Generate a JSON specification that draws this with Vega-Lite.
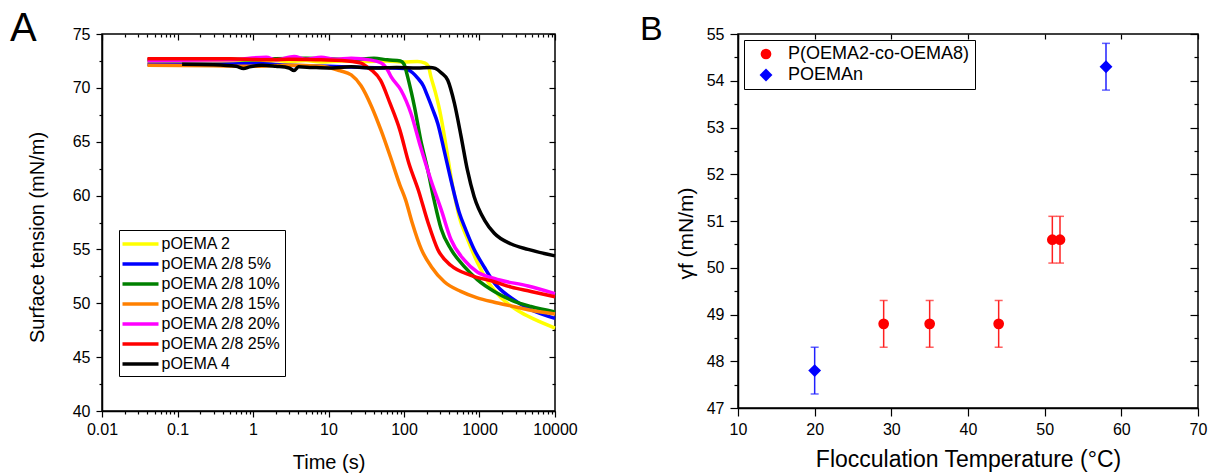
{
  "$schema": "https://vega.github.io/schema/vega-lite/v6.json",
  "padding": {"left": 9, "top": 8, "right": 0, "bottom": 0},
  "spacing": 183,
  "bounds": "flush",
  "resolve": {"scale": {"color": "independent", "shape": "independent", "size": "independent", "strokeWidth": "independent"}},
  "config": {
    "font": "'Liberation Sans', Arial, sans-serif",
    "view": {"stroke": "black", "strokeWidth": 1.5},
    "axis": {"grid": false, "domainColor": "black", "domainWidth": 1.5, "tickColor": "black", "tickWidth": 1.2, "labelColor": "black", "titleColor": "black", "labelFontSize": 16, "titleFontWeight": "normal", "labelFlush": false, "labelOverlap": false},
    "legend": {"labelColor": "black", "labelLimit": 400},
    "title": {"color": "black", "fontWeight": "normal"}
  },
  "hconcat": [
    {
      "width": 453,
      "height": 377,
      "title": {"text": "A", "anchor": "start", "frame": "group", "fontSize": 40, "baseline": "alphabetic", "dx": -92, "dy": 9, "offset": -46},
      "layer": [
        {
          "data": {"values": [
            {"s":"pOEMA 2","t":0.04,"v":72.4},{"s":"pOEMA 2","t":0.2,"v":72.45},{"s":"pOEMA 2","t":0.5,"v":72.4},{"s":"pOEMA 2","t":1,"v":72.5},{"s":"pOEMA 2","t":1.5,"v":72.35},{"s":"pOEMA 2","t":2,"v":72.55},{"s":"pOEMA 2","t":3,"v":72.45},{"s":"pOEMA 2","t":5,"v":72.55},{"s":"pOEMA 2","t":8,"v":72.4},{"s":"pOEMA 2","t":15,"v":72.5},{"s":"pOEMA 2","t":30,"v":72.45},{"s":"pOEMA 2","t":60,"v":72.5},{"s":"pOEMA 2","t":100,"v":72.4},{"s":"pOEMA 2","t":150,"v":72.45},{"s":"pOEMA 2","t":190,"v":72.3},{"s":"pOEMA 2","t":210,"v":72.0},{"s":"pOEMA 2","t":228,"v":71.0},{"s":"pOEMA 2","t":260,"v":69.6},{"s":"pOEMA 2","t":295,"v":68.0},{"s":"pOEMA 2","t":330,"v":66.2},{"s":"pOEMA 2","t":362,"v":64.5},{"s":"pOEMA 2","t":400,"v":62.6},{"s":"pOEMA 2","t":437,"v":61.0},{"s":"pOEMA 2","t":490,"v":59.3},{"s":"pOEMA 2","t":540,"v":58.0},{"s":"pOEMA 2","t":690,"v":56.0},{"s":"pOEMA 2","t":935,"v":53.8},{"s":"pOEMA 2","t":1290,"v":52.0},{"s":"pOEMA 2","t":1950,"v":50.5},{"s":"pOEMA 2","t":3240,"v":49.3},{"s":"pOEMA 2","t":5370,"v":48.5},{"s":"pOEMA 2","t":10000,"v":47.7},
            {"s":"pOEMA 2/8 5%","t":0.04,"v":72.2},{"s":"pOEMA 2/8 5%","t":0.3,"v":72.2},{"s":"pOEMA 2/8 5%","t":1,"v":72.25},{"s":"pOEMA 2/8 5%","t":3,"v":72.1},{"s":"pOEMA 2/8 5%","t":10,"v":72.0},{"s":"pOEMA 2/8 5%","t":30,"v":71.9},{"s":"pOEMA 2/8 5%","t":60,"v":71.85},{"s":"pOEMA 2/8 5%","t":100,"v":71.8},{"s":"pOEMA 2/8 5%","t":130,"v":71.4},{"s":"pOEMA 2/8 5%","t":152,"v":70.9},{"s":"pOEMA 2/8 5%","t":180,"v":70.2},{"s":"pOEMA 2/8 5%","t":206,"v":69.2},{"s":"pOEMA 2/8 5%","t":240,"v":68.0},{"s":"pOEMA 2/8 5%","t":280,"v":66.7},{"s":"pOEMA 2/8 5%","t":340,"v":64.2},{"s":"pOEMA 2/8 5%","t":420,"v":61.4},{"s":"pOEMA 2/8 5%","t":540,"v":58.4},{"s":"pOEMA 2/8 5%","t":660,"v":56.8},{"s":"pOEMA 2/8 5%","t":850,"v":55.0},{"s":"pOEMA 2/8 5%","t":1170,"v":53.3},{"s":"pOEMA 2/8 5%","t":1570,"v":51.9},{"s":"pOEMA 2/8 5%","t":2630,"v":50.5},{"s":"pOEMA 2/8 5%","t":4800,"v":49.4},{"s":"pOEMA 2/8 5%","t":10000,"v":48.6},
            {"s":"pOEMA 2/8 10%","t":0.04,"v":72.6},{"s":"pOEMA 2/8 10%","t":0.3,"v":72.7},{"s":"pOEMA 2/8 10%","t":1,"v":72.6},{"s":"pOEMA 2/8 10%","t":2,"v":72.7},{"s":"pOEMA 2/8 10%","t":5,"v":72.75},{"s":"pOEMA 2/8 10%","t":10,"v":72.7},{"s":"pOEMA 2/8 10%","t":20,"v":72.6},{"s":"pOEMA 2/8 10%","t":40,"v":72.75},{"s":"pOEMA 2/8 10%","t":60,"v":72.6},{"s":"pOEMA 2/8 10%","t":90,"v":72.5},{"s":"pOEMA 2/8 10%","t":100,"v":72.2},{"s":"pOEMA 2/8 10%","t":112,"v":71.0},{"s":"pOEMA 2/8 10%","t":125,"v":69.6},{"s":"pOEMA 2/8 10%","t":138,"v":68.2},{"s":"pOEMA 2/8 10%","t":166,"v":65.2},{"s":"pOEMA 2/8 10%","t":206,"v":62.4},{"s":"pOEMA 2/8 10%","t":250,"v":59.6},{"s":"pOEMA 2/8 10%","t":311,"v":56.9},{"s":"pOEMA 2/8 10%","t":420,"v":55.0},{"s":"pOEMA 2/8 10%","t":630,"v":53.4},{"s":"pOEMA 2/8 10%","t":935,"v":52.2},{"s":"pOEMA 2/8 10%","t":1570,"v":51.1},{"s":"pOEMA 2/8 10%","t":2630,"v":50.3},{"s":"pOEMA 2/8 10%","t":4800,"v":49.7},{"s":"pOEMA 2/8 10%","t":10000,"v":49.2},
            {"s":"pOEMA 2/8 15%","t":0.04,"v":72.1},{"s":"pOEMA 2/8 15%","t":0.3,"v":72.05},{"s":"pOEMA 2/8 15%","t":1,"v":72.0},{"s":"pOEMA 2/8 15%","t":3,"v":72.1},{"s":"pOEMA 2/8 15%","t":8,"v":72.0},{"s":"pOEMA 2/8 15%","t":14,"v":71.6},{"s":"pOEMA 2/8 15%","t":20,"v":71.2},{"s":"pOEMA 2/8 15%","t":27,"v":70.2},{"s":"pOEMA 2/8 15%","t":37,"v":68.3},{"s":"pOEMA 2/8 15%","t":50,"v":66.0},{"s":"pOEMA 2/8 15%","t":66,"v":63.6},{"s":"pOEMA 2/8 15%","t":88,"v":61.0},{"s":"pOEMA 2/8 15%","t":105,"v":59.6},{"s":"pOEMA 2/8 15%","t":128,"v":57.5},{"s":"pOEMA 2/8 15%","t":170,"v":55.0},{"s":"pOEMA 2/8 15%","t":230,"v":53.4},{"s":"pOEMA 2/8 15%","t":342,"v":52.0},{"s":"pOEMA 2/8 15%","t":565,"v":51.1},{"s":"pOEMA 2/8 15%","t":935,"v":50.5},{"s":"pOEMA 2/8 15%","t":1570,"v":50.1},{"s":"pOEMA 2/8 15%","t":2630,"v":49.75},{"s":"pOEMA 2/8 15%","t":4400,"v":49.4},{"s":"pOEMA 2/8 15%","t":10000,"v":49.0},
            {"s":"pOEMA 2/8 20%","t":0.04,"v":72.55},{"s":"pOEMA 2/8 20%","t":0.5,"v":72.6},{"s":"pOEMA 2/8 20%","t":1.5,"v":72.85},{"s":"pOEMA 2/8 20%","t":2,"v":72.6},{"s":"pOEMA 2/8 20%","t":3.5,"v":72.9},{"s":"pOEMA 2/8 20%","t":5,"v":72.65},{"s":"pOEMA 2/8 20%","t":8,"v":72.85},{"s":"pOEMA 2/8 20%","t":12,"v":72.65},{"s":"pOEMA 2/8 20%","t":20,"v":72.75},{"s":"pOEMA 2/8 20%","t":35,"v":72.6},{"s":"pOEMA 2/8 20%","t":50,"v":72.3},{"s":"pOEMA 2/8 20%","t":60,"v":71.7},{"s":"pOEMA 2/8 20%","t":68,"v":71.0},{"s":"pOEMA 2/8 20%","t":91,"v":69.8},{"s":"pOEMA 2/8 20%","t":124,"v":67.6},{"s":"pOEMA 2/8 20%","t":166,"v":64.5},{"s":"pOEMA 2/8 20%","t":228,"v":61.4},{"s":"pOEMA 2/8 20%","t":311,"v":58.7},{"s":"pOEMA 2/8 20%","t":420,"v":55.9},{"s":"pOEMA 2/8 20%","t":630,"v":54.0},{"s":"pOEMA 2/8 20%","t":935,"v":52.9},{"s":"pOEMA 2/8 20%","t":1570,"v":52.3},{"s":"pOEMA 2/8 20%","t":4400,"v":51.6},{"s":"pOEMA 2/8 20%","t":10000,"v":50.9},
            {"s":"pOEMA 2/8 25%","t":0.04,"v":72.7},{"s":"pOEMA 2/8 25%","t":0.5,"v":72.7},{"s":"pOEMA 2/8 25%","t":1.5,"v":72.6},{"s":"pOEMA 2/8 25%","t":3,"v":72.65},{"s":"pOEMA 2/8 25%","t":8,"v":72.6},{"s":"pOEMA 2/8 25%","t":15,"v":72.55},{"s":"pOEMA 2/8 25%","t":27,"v":72.3},{"s":"pOEMA 2/8 25%","t":33,"v":71.9},{"s":"pOEMA 2/8 25%","t":38,"v":71.6},{"s":"pOEMA 2/8 25%","t":49,"v":70.7},{"s":"pOEMA 2/8 25%","t":65,"v":68.6},{"s":"pOEMA 2/8 25%","t":88,"v":66.1},{"s":"pOEMA 2/8 25%","t":116,"v":63.0},{"s":"pOEMA 2/8 25%","t":155,"v":60.5},{"s":"pOEMA 2/8 25%","t":208,"v":57.5},{"s":"pOEMA 2/8 25%","t":280,"v":55.0},{"s":"pOEMA 2/8 25%","t":420,"v":53.5},{"s":"pOEMA 2/8 25%","t":770,"v":52.6},{"s":"pOEMA 2/8 25%","t":1570,"v":52.0},{"s":"pOEMA 2/8 25%","t":2630,"v":51.5},{"s":"pOEMA 2/8 25%","t":4800,"v":51.1},{"s":"pOEMA 2/8 25%","t":10000,"v":50.6},
            {"s":"pOEMA 4","t":0.115,"v":72.2},{"s":"pOEMA 4","t":0.3,"v":72.15},{"s":"pOEMA 4","t":0.6,"v":72.0},{"s":"pOEMA 4","t":0.75,"v":71.8},{"s":"pOEMA 4","t":0.9,"v":71.95},{"s":"pOEMA 4","t":1.3,"v":72.1},{"s":"pOEMA 4","t":2,"v":72.0},{"s":"pOEMA 4","t":3,"v":71.85},{"s":"pOEMA 4","t":3.5,"v":71.6},{"s":"pOEMA 4","t":4,"v":71.95},{"s":"pOEMA 4","t":6,"v":71.9},{"s":"pOEMA 4","t":10,"v":71.85},{"s":"pOEMA 4","t":20,"v":71.95},{"s":"pOEMA 4","t":40,"v":71.85},{"s":"pOEMA 4","t":80,"v":71.9},{"s":"pOEMA 4","t":150,"v":71.85},{"s":"pOEMA 4","t":220,"v":71.9},{"s":"pOEMA 4","t":260,"v":71.8},{"s":"pOEMA 4","t":311,"v":71.4},{"s":"pOEMA 4","t":380,"v":70.7},{"s":"pOEMA 4","t":464,"v":68.6},{"s":"pOEMA 4","t":570,"v":65.5},{"s":"pOEMA 4","t":690,"v":62.4},{"s":"pOEMA 4","t":850,"v":59.9},{"s":"pOEMA 4","t":1170,"v":57.7},{"s":"pOEMA 4","t":1570,"v":56.5},{"s":"pOEMA 4","t":2630,"v":55.5},{"s":"pOEMA 4","t":4400,"v":55.0},{"s":"pOEMA 4","t":10000,"v":54.4}
          ]},
          "mark": {"type": "line", "interpolate": "monotone"},
          "encoding": {
            "x": {"field": "t", "type": "quantitative", "scale": {"type": "log", "domain": [0.01, 10000], "nice": false},
              "axis": {"title": "Time (s)", "titleFontSize": 20, "values": [0.01,0.02,0.03,0.04,0.05,0.06,0.07,0.08,0.09,0.1,0.2,0.3,0.4,0.5,0.6,0.7,0.8,0.9,1,2,3,4,5,6,7,8,9,10,20,30,40,50,60,70,80,90,100,200,300,400,500,600,700,800,900,1000,2000,3000,4000,5000,6000,7000,8000,9000,10000],
                "format": "~g", "labelExpr": "abs(log(datum.value)/LN10 - round(log(datum.value)/LN10)) < 0.001 ? datum.label : ''",
                "tickSize": {"condition": {"test": "abs(log(datum.value)/LN10 - round(log(datum.value)/LN10)) > 0.001", "value": 3}, "value": 6},
                "labelPadding": 4, "minExtent": 26, "maxExtent": 26, "titlePadding": 15}},
            "y": {"field": "v", "type": "quantitative", "scale": {"domain": [40, 75], "nice": false, "zero": false},
              "axis": {"title": "Surface tension (mN/m)", "titleFontSize": 20, "values": [40,42.5,45,47.5,50,52.5,55,57.5,60,62.5,65,67.5,70,72.5,75],
                "labelExpr": "datum.value % 5 == 0 ? format(datum.value, 'd') : ''",
                "tickSize": {"condition": {"test": "datum.value % 5 != 0", "value": 3}, "value": 6},
                "labelPadding": 6, "minExtent": 30, "maxExtent": 30, "titlePadding": 25, "titleY": 203}},
            "color": {"field": "s", "type": "nominal",
              "scale": {"domain": ["pOEMA 2","pOEMA 2/8 5%","pOEMA 2/8 10%","pOEMA 2/8 15%","pOEMA 2/8 20%","pOEMA 2/8 25%","pOEMA 4"], "range": ["#ffff00","#0000ff","#008000","#ff8000","#ff00ff","#ff0000","#000000"]},
              "legend": {"title": null, "orient": "none", "legendX": 17, "legendY": 196, "strokeColor": "black", "fillColor": "white", "padding": 4, "rowPadding": 2, "symbolType": "M-2.25,0H2.25", "symbolSize": 256, "symbolStrokeWidth": 3, "symbolOffset": 7.5, "labelOffset": 11, "labelFontSize": 16}},
            "strokeWidth": {"field": "s", "type": "nominal",
              "scale": {"domain": ["pOEMA 2","pOEMA 2/8 5%","pOEMA 2/8 10%","pOEMA 2/8 15%","pOEMA 2/8 20%","pOEMA 2/8 25%","pOEMA 4"], "range": [3.5,3.5,3.5,3.5,3.5,3.5,2.2]}, "legend": null}
          }
        },
        {
          "data": {"values": [{"t": 1, "v": 50}]},
          "mark": {"type": "point", "opacity": 0},
          "encoding": {
            "x": {"field": "t", "type": "quantitative", "scale": {"type": "log", "domain": [0.01, 10000], "nice": false},
              "axis": {"orient": "top", "title": null, "labels": false, "domain": false, "values": [0.01,0.02,0.03,0.04,0.05,0.06,0.07,0.08,0.09,0.1,0.2,0.3,0.4,0.5,0.6,0.7,0.8,0.9,1,2,3,4,5,6,7,8,9,10,20,30,40,50,60,70,80,90,100,200,300,400,500,600,700,800,900,1000,2000,3000,4000,5000,6000,7000,8000,9000,10000],
                "tickSize": {"condition": {"test": "abs(log(datum.value)/LN10 - round(log(datum.value)/LN10)) > 0.001", "value": -3}, "value": -6}}},
            "y": {"field": "v", "type": "quantitative", "scale": {"domain": [40, 75], "nice": false, "zero": false},
              "axis": {"orient": "right", "title": null, "labels": false, "domain": false, "values": [40,42.5,45,47.5,50,52.5,55,57.5,60,62.5,65,67.5,70,72.5,75],
                "tickSize": {"condition": {"test": "datum.value % 5 != 0", "value": -3}, "value": -6}}}
          }
        }
      ],
      "resolve": {"axis": {"x": "independent", "y": "independent"}}
    },
    {
      "width": 460,
      "height": 374,
      "title": {"text": "B", "anchor": "start", "frame": "group", "fontSize": 34, "baseline": "alphabetic", "dx": -98, "dy": 8, "offset": -40},
      "data": {"values": [
        {"s": "POEMAn", "T": 20, "g": 47.8, "lo": 47.3, "hi": 48.3},
        {"s": "P(OEMA2-co-OEMA8)", "T": 29, "g": 48.8, "lo": 48.3, "hi": 49.3},
        {"s": "P(OEMA2-co-OEMA8)", "T": 35, "g": 48.8, "lo": 48.3, "hi": 49.3},
        {"s": "P(OEMA2-co-OEMA8)", "T": 44, "g": 48.8, "lo": 48.3, "hi": 49.3},
        {"s": "P(OEMA2-co-OEMA8)", "T": 51, "g": 50.6, "lo": 50.1, "hi": 51.1},
        {"s": "P(OEMA2-co-OEMA8)", "T": 52, "g": 50.6, "lo": 50.1, "hi": 51.1},
        {"s": "POEMAn", "T": 58, "g": 54.3, "lo": 53.8, "hi": 54.8}
      ]},
      "layer": [
        {
          "transform": [{"filter": "datum.s == 'P(OEMA2-co-OEMA8)'"}],
          "mark": {"type": "errorbar", "color": "#ff2020", "ticks": {"size": 8, "thickness": 1.5}, "thickness": 1.5},
          "encoding": {
            "x": {"field": "T", "type": "quantitative", "scale": {"domain": [10, 70], "nice": false}, "axis": null},
            "y": {"field": "lo", "type": "quantitative", "scale": {"domain": [47, 55], "nice": false, "zero": false}, "axis": null},
            "y2": {"field": "hi"}
          }
        },
        {
          "transform": [{"filter": "datum.s == 'POEMAn'"}],
          "mark": {"type": "errorbar", "color": "#2020ff", "ticks": {"size": 8, "thickness": 1.5}, "thickness": 1.5},
          "encoding": {
            "x": {"field": "T", "type": "quantitative", "scale": {"domain": [10, 70], "nice": false}, "axis": null},
            "y": {"field": "lo", "type": "quantitative", "scale": {"domain": [47, 55], "nice": false, "zero": false}, "axis": null},
            "y2": {"field": "hi"}
          }
        },
        {
          "mark": {"type": "point", "filled": true, "opacity": 1},
          "encoding": {
            "x": {"field": "T", "type": "quantitative", "scale": {"domain": [10, 70], "nice": false},
              "axis": {"title": "Flocculation Temperature (°C)", "titleFontSize": 23, "values": [10,20,30,40,50,60,70], "tickSize": 8, "labelPadding": 5, "minExtent": 29, "maxExtent": 29, "titlePadding": 11}},
            "y": {"field": "g", "type": "quantitative", "scale": {"domain": [47, 55], "nice": false, "zero": false},
              "axis": {"title": "γf (mN/m)", "titleFontSize": 21, "values": [47,47.5,48,48.5,49,49.5,50,50.5,51,51.5,52,52.5,53,53.5,54,54.5,55],
                "labelExpr": "datum.value % 1 == 0 ? format(datum.value, 'd') : ''",
                "tickSize": {"condition": {"test": "datum.value % 1 != 0", "value": 4}, "value": 8},
                "labelPadding": 6, "minExtent": 32, "maxExtent": 32, "titlePadding": 10, "titleY": 199}},
            "color": {"field": "s", "type": "nominal", "scale": {"domain": ["P(OEMA2-co-OEMA8)", "POEMAn"], "range": ["#ff0000", "#0000ff"]},
              "legend": {"title": null, "orient": "none", "legendX": 6, "legendY": 6, "strokeColor": "black", "fillColor": "white", "padding": 5, "rowPadding": 3, "symbolSize": 130, "symbolOffset": 8, "labelOffset": 13, "labelFontSize": 18}},
            "shape": {"field": "s", "type": "nominal", "scale": {"domain": ["P(OEMA2-co-OEMA8)", "POEMAn"], "range": ["circle", "diamond"]},
              "legend": {"title": null, "orient": "none", "legendX": 6, "legendY": 6, "strokeColor": "black", "fillColor": "white", "padding": 5, "rowPadding": 3, "symbolSize": 130, "symbolOffset": 8, "labelOffset": 13, "labelFontSize": 18}},
            "size": {"field": "s", "type": "nominal", "scale": {"domain": ["P(OEMA2-co-OEMA8)", "POEMAn"], "range": [115, 165]}, "legend": null}
          }
        },
        {
          "mark": {"type": "point", "opacity": 0},
          "encoding": {
            "x": {"field": "T", "type": "quantitative", "scale": {"domain": [10, 70], "nice": false},
              "axis": {"orient": "top", "title": null, "labels": false, "domain": false, "values": [10,20,30,40,50,60,70], "tickSize": -5}},
            "y": {"field": "g", "type": "quantitative", "scale": {"domain": [47, 55], "nice": false, "zero": false},
              "axis": {"orient": "right", "title": null, "labels": false, "domain": false, "values": [47,47.5,48,48.5,49,49.5,50,50.5,51,51.5,52,52.5,53,53.5,54,54.5,55],
                "tickSize": {"condition": {"test": "datum.value % 1 != 0", "value": -4}, "value": -8}}}
          }
        }
      ],
      "resolve": {"axis": {"x": "independent", "y": "independent"}}
    }
  ]
}
